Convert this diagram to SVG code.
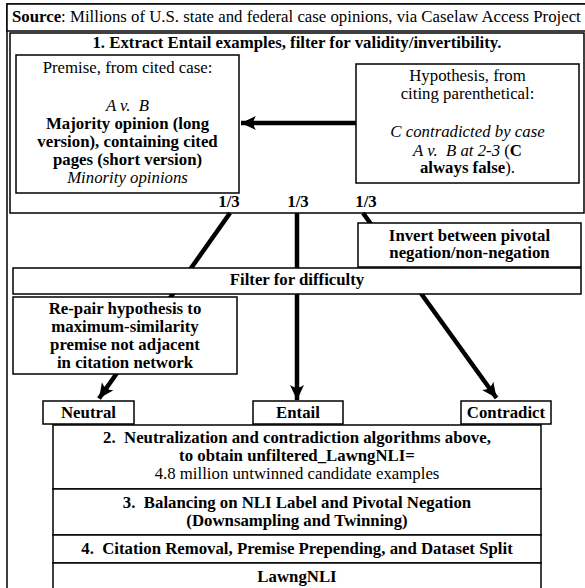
<svg xmlns="http://www.w3.org/2000/svg" width="585" height="588" viewBox="0 0 585 588">
<style>
text{font-family:'Liberation Serif','Times New Roman',serif;font-size:16.8px;fill:#000}
.b{font-weight:bold}
.i{font-style:italic}
.c{text-anchor:middle}
.box{fill:#fff;stroke:#000;stroke-width:1.5}
.ln{stroke:#000;stroke-width:4.5;fill:none}
</style>
<defs>
<marker id="ah" markerUnits="userSpaceOnUse" markerWidth="20" markerHeight="20" viewBox="-18 -10 20 20" refX="0" refY="0" orient="auto">
<path d="M0,0 L-15,-7 Q-10,0 -15,7 Z" fill="#000"/>
</marker>
</defs>
<rect width="585" height="588" fill="#fff"/>
<g id="frame">
<rect x="7" y="4" width="582" height="590" fill="none" stroke="#000" stroke-width="1.5"/>
</g>
<g id="source">
<rect class="box" x="7" y="4" width="582" height="27"/>
<text x="12" y="22"><tspan class="b">Source</tspan>: Millions of U.S. state and federal case opinions, via Caselaw Access Project</text>
</g>
<g id="step1">
<rect class="box" x="10" y="33" width="574" height="180"/>
<text class="b c" x="297" y="48">1. Extract Entail examples, filter for validity/invertibility.</text>
<text class="b c" x="229" y="207">1/3</text>
<text class="b c" x="298" y="207">1/3</text>
<text class="b c" x="366" y="207">1/3</text>
</g>
<g id="premise">
<rect class="box" x="16" y="55" width="223" height="138"/>
<text class="c" x="127.5" y="73">Premise, from cited case:</text>
<text class="c i" x="127.5" y="110.5">A v.&#160; B</text>
<text class="c b" x="127.5" y="128.7">Majority opinion (long</text>
<text class="c b" x="127.5" y="147">version), containing cited</text>
<text class="c b" x="127.5" y="165">pages (short version)</text>
<text class="c i" x="127.5" y="183">Minority opinions</text>
</g>
<g id="hypothesis">
<rect class="box" x="356" y="64" width="223" height="119"/>
<text class="c" x="467.5" y="81">Hypothesis, from</text>
<text class="c" x="467.5" y="99">citing parenthetical:</text>
<text class="c i" x="467.5" y="137">C contradicted by case</text>
<text class="c" x="467.5" y="155.5"><tspan class="i">A v.&#160; B at 2-3</tspan> (<tspan class="b">C</tspan></text>
<text class="c" x="467.5" y="173"><tspan class="b">always false</tspan>).</text>
</g>
<g id="connectors">
<line class="ln" x1="356" y1="123" x2="241" y2="123" marker-end="url(#ah)"/>
<line class="ln" x1="230" y1="213" x2="99" y2="398.5" stroke-width="4" marker-end="url(#ah)"/>
<line class="ln" x1="297" y1="213" x2="297" y2="400" marker-end="url(#ah)"/>
<line class="ln" x1="363" y1="213" x2="496.5" y2="398" marker-end="url(#ah)"/>
</g>
<g id="invert">
<rect class="box" x="358" y="223" width="223" height="44"/>
<text class="c b" x="469.5" y="240.5">Invert between pivotal</text>
<text class="c b" x="469.5" y="258">negation/non-negation</text>
</g>
<g id="filter">
<rect class="box" x="13" y="268" width="568" height="26"/>
<text class="c b" x="297" y="285">Filter for difficulty</text>
</g>
<g id="repair">
<rect class="box" x="13" y="297" width="224" height="77"/>
<text class="c b" x="125" y="314">Re-pair hypothesis to</text>
<text class="c b" x="125" y="332">maximum-similarity</text>
<text class="c b" x="125" y="350">premise not adjacent</text>
<text class="c b" x="125" y="368">in citation network</text>
</g>
<g id="neutral">
<rect class="box" x="43" y="401" width="91" height="23"/>
<text class="c b" x="88.5" y="418">Neutral</text>
</g>
<g id="entail">
<rect class="box" x="253" y="401" width="90" height="23"/>
<text class="c b" x="298" y="418">Entail</text>
</g>
<g id="contradict">
<rect class="box" x="461" y="401" width="90" height="23"/>
<text class="c b" x="506" y="418">Contradict</text>
</g>
<g id="step2">
<rect class="box" x="53" y="425" width="488" height="64"/>
<text class="c b" x="297" y="442.5">2.&#160; Neutralization and contradiction algorithms above,</text>
<text class="c b" x="297" y="461">to obtain unfiltered_LawngNLI=</text>
<text class="c" x="297" y="479">4.8 million untwinned candidate examples</text>
</g>
<g id="step3">
<rect class="box" x="53" y="489" width="488" height="46"/>
<text class="c b" x="297" y="508">3.&#160; Balancing on NLI Label and Pivotal Negation</text>
<text class="c b" x="297" y="525.5">(Downsampling and Twinning)</text>
</g>
<g id="step4">
<rect class="box" x="53" y="535" width="488" height="28"/>
<text class="c b" x="297" y="554">4.&#160; Citation Removal, Premise Prepending, and Dataset Split</text>
</g>
<g id="lawngnli">
<rect class="box" x="53" y="563" width="488" height="40"/>
<text class="c b" x="297" y="582">LawngNLI</text>
</g>
</svg>
